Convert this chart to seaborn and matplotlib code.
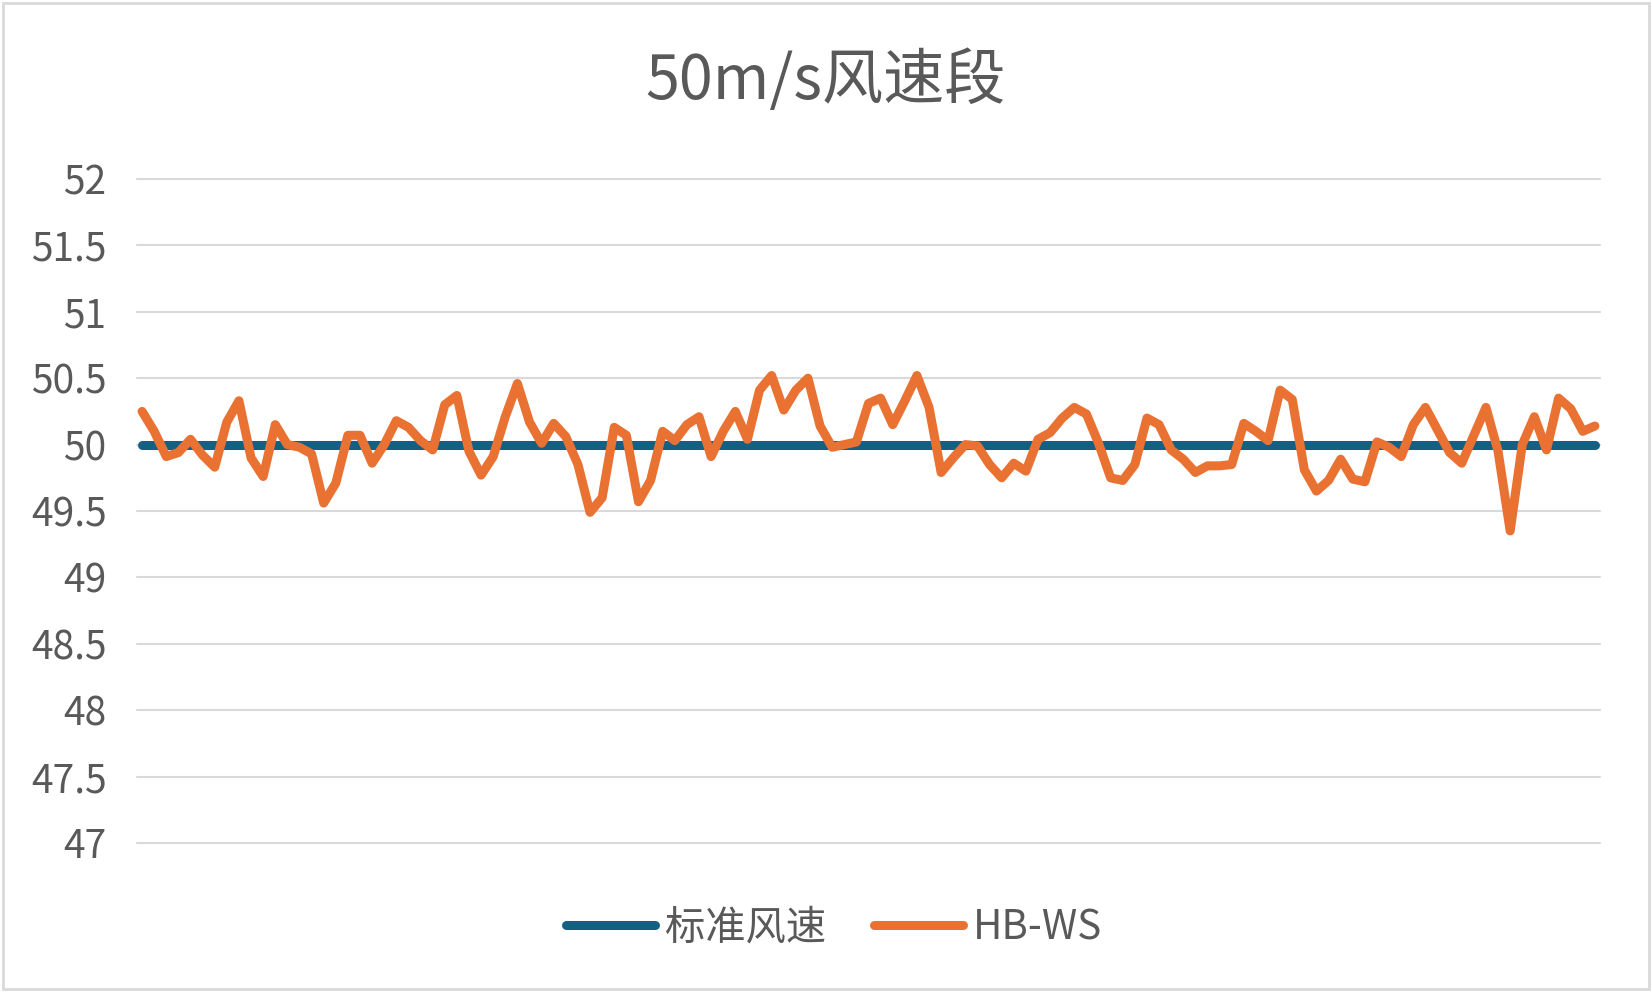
import numpy as np
import pandas as pd
import matplotlib
matplotlib.use('Agg')
import matplotlib.pyplot as plt
import seaborn as sns
from matplotlib.patches import Rectangle

# 数据
hb_ws = [50.25, 50.10, 49.91, 49.94, 50.04, 49.92, 49.83, 50.17, 50.33, 49.90,
         49.76, 50.15, 50.00, 49.98, 49.93, 49.56, 49.71, 50.07, 50.07, 49.86,
         50.00, 50.18, 50.13, 50.03, 49.96, 50.30, 50.37, 49.95, 49.77, 49.91,
         50.21, 50.46, 50.17, 50.01, 50.16, 50.06, 49.85, 49.49, 49.60, 50.13,
         50.07, 49.57, 49.73, 50.10, 50.03, 50.15, 50.21, 49.91, 50.10, 50.25,
         50.04, 50.41, 50.52, 50.26, 50.41, 50.50, 50.14, 49.98, 50.00, 50.02,
         50.31, 50.35, 50.15, 50.33, 50.52, 50.28, 49.79, 49.90, 50.00, 49.99,
         49.85, 49.75, 49.86, 49.80, 50.04, 50.09, 50.20, 50.28, 50.23, 50.01,
         49.75, 49.73, 49.85, 50.20, 50.15, 49.96, 49.89, 49.79, 49.84, 49.84,
         49.85, 50.16, 50.10, 50.03, 50.41, 50.34, 49.81, 49.65, 49.73, 49.89,
         49.74, 49.72, 50.02, 49.98, 49.91, 50.15, 50.28, 50.11, 49.94, 49.86,
         50.07, 50.28, 49.95, 49.35, 50.00, 50.21, 49.96, 50.35, 50.27, 50.10,
         50.14]
standard = [50.0] * len(hb_ws)
series_names = ['标准风速', 'HB-WS']
colors = ['#156082', '#E97132']
yticks = [47, 47.5, 48, 48.5, 49, 49.5, 50, 50.5, 51, 51.5, 52]
title = '50m/s风速段'

n = len(hb_ws)
df = pd.DataFrame({
    'idx': list(range(n)) * 2,
    'value': standard + hb_ws,
    'series': [series_names[0]] * n + [series_names[1]] * n,
})

sns.set_theme(style='white')
plt.rcParams['font.family'] = ['Noto Sans CJK SC', 'DejaVu Sans']

fig = plt.figure(figsize=(16.52, 9.92), dpi=100)
ax = fig.add_axes([137 / 1652, 1 - 843 / 992, (1600 - 137) / 1652, (843 - 179) / 992])

sns.lineplot(data=df, x='idx', y='value', hue='series', palette=colors,
             linewidth=6.5, ax=ax, legend=False)
for line in ax.get_lines():
    line.set_solid_capstyle('round')
    line.set_solid_joinstyle('round')

ax.set_xlim(-0.42, n - 1 + 0.42)
ax.set_ylim(47, 52)
ax.set_yticks(yticks)
ax.set_yticklabels([f'{t:g}' for t in yticks])
ax.set_xticks([])
ax.set_xlabel('')
ax.set_ylabel('')
for t in yticks:
    ax.axhline(t, color='#D9D9D9', linewidth=1.5, zorder=0, clip_on=False)
for s in ax.spines.values():
    s.set_visible(False)
ax.tick_params(axis='y', length=0, pad=22, labelsize=28, labelcolor='#595959')

fig.text(0.5, 1 - 82 / 992, title, ha='center', va='center',
         fontsize=44, color='#595959')

handles = [plt.Line2D([0], [0], color=c, linewidth=6.5, solid_capstyle='round') for c in colors]
leg = fig.legend(handles, series_names, loc='center', bbox_to_anchor=(0.505, 1 - 928 / 992),
                 ncol=2, frameon=False, fontsize=29, handlelength=2.2,
                 handletextpad=0.25, columnspacing=1.2)
for txt in leg.get_texts():
    txt.set_color('#595959')

fig.patches.append(Rectangle((0.002, 0.003), 0.996, 0.994, transform=fig.transFigure,
                             fill=False, edgecolor='#D9D9D9', linewidth=2))

fig.savefig('out.png', dpi=100)
